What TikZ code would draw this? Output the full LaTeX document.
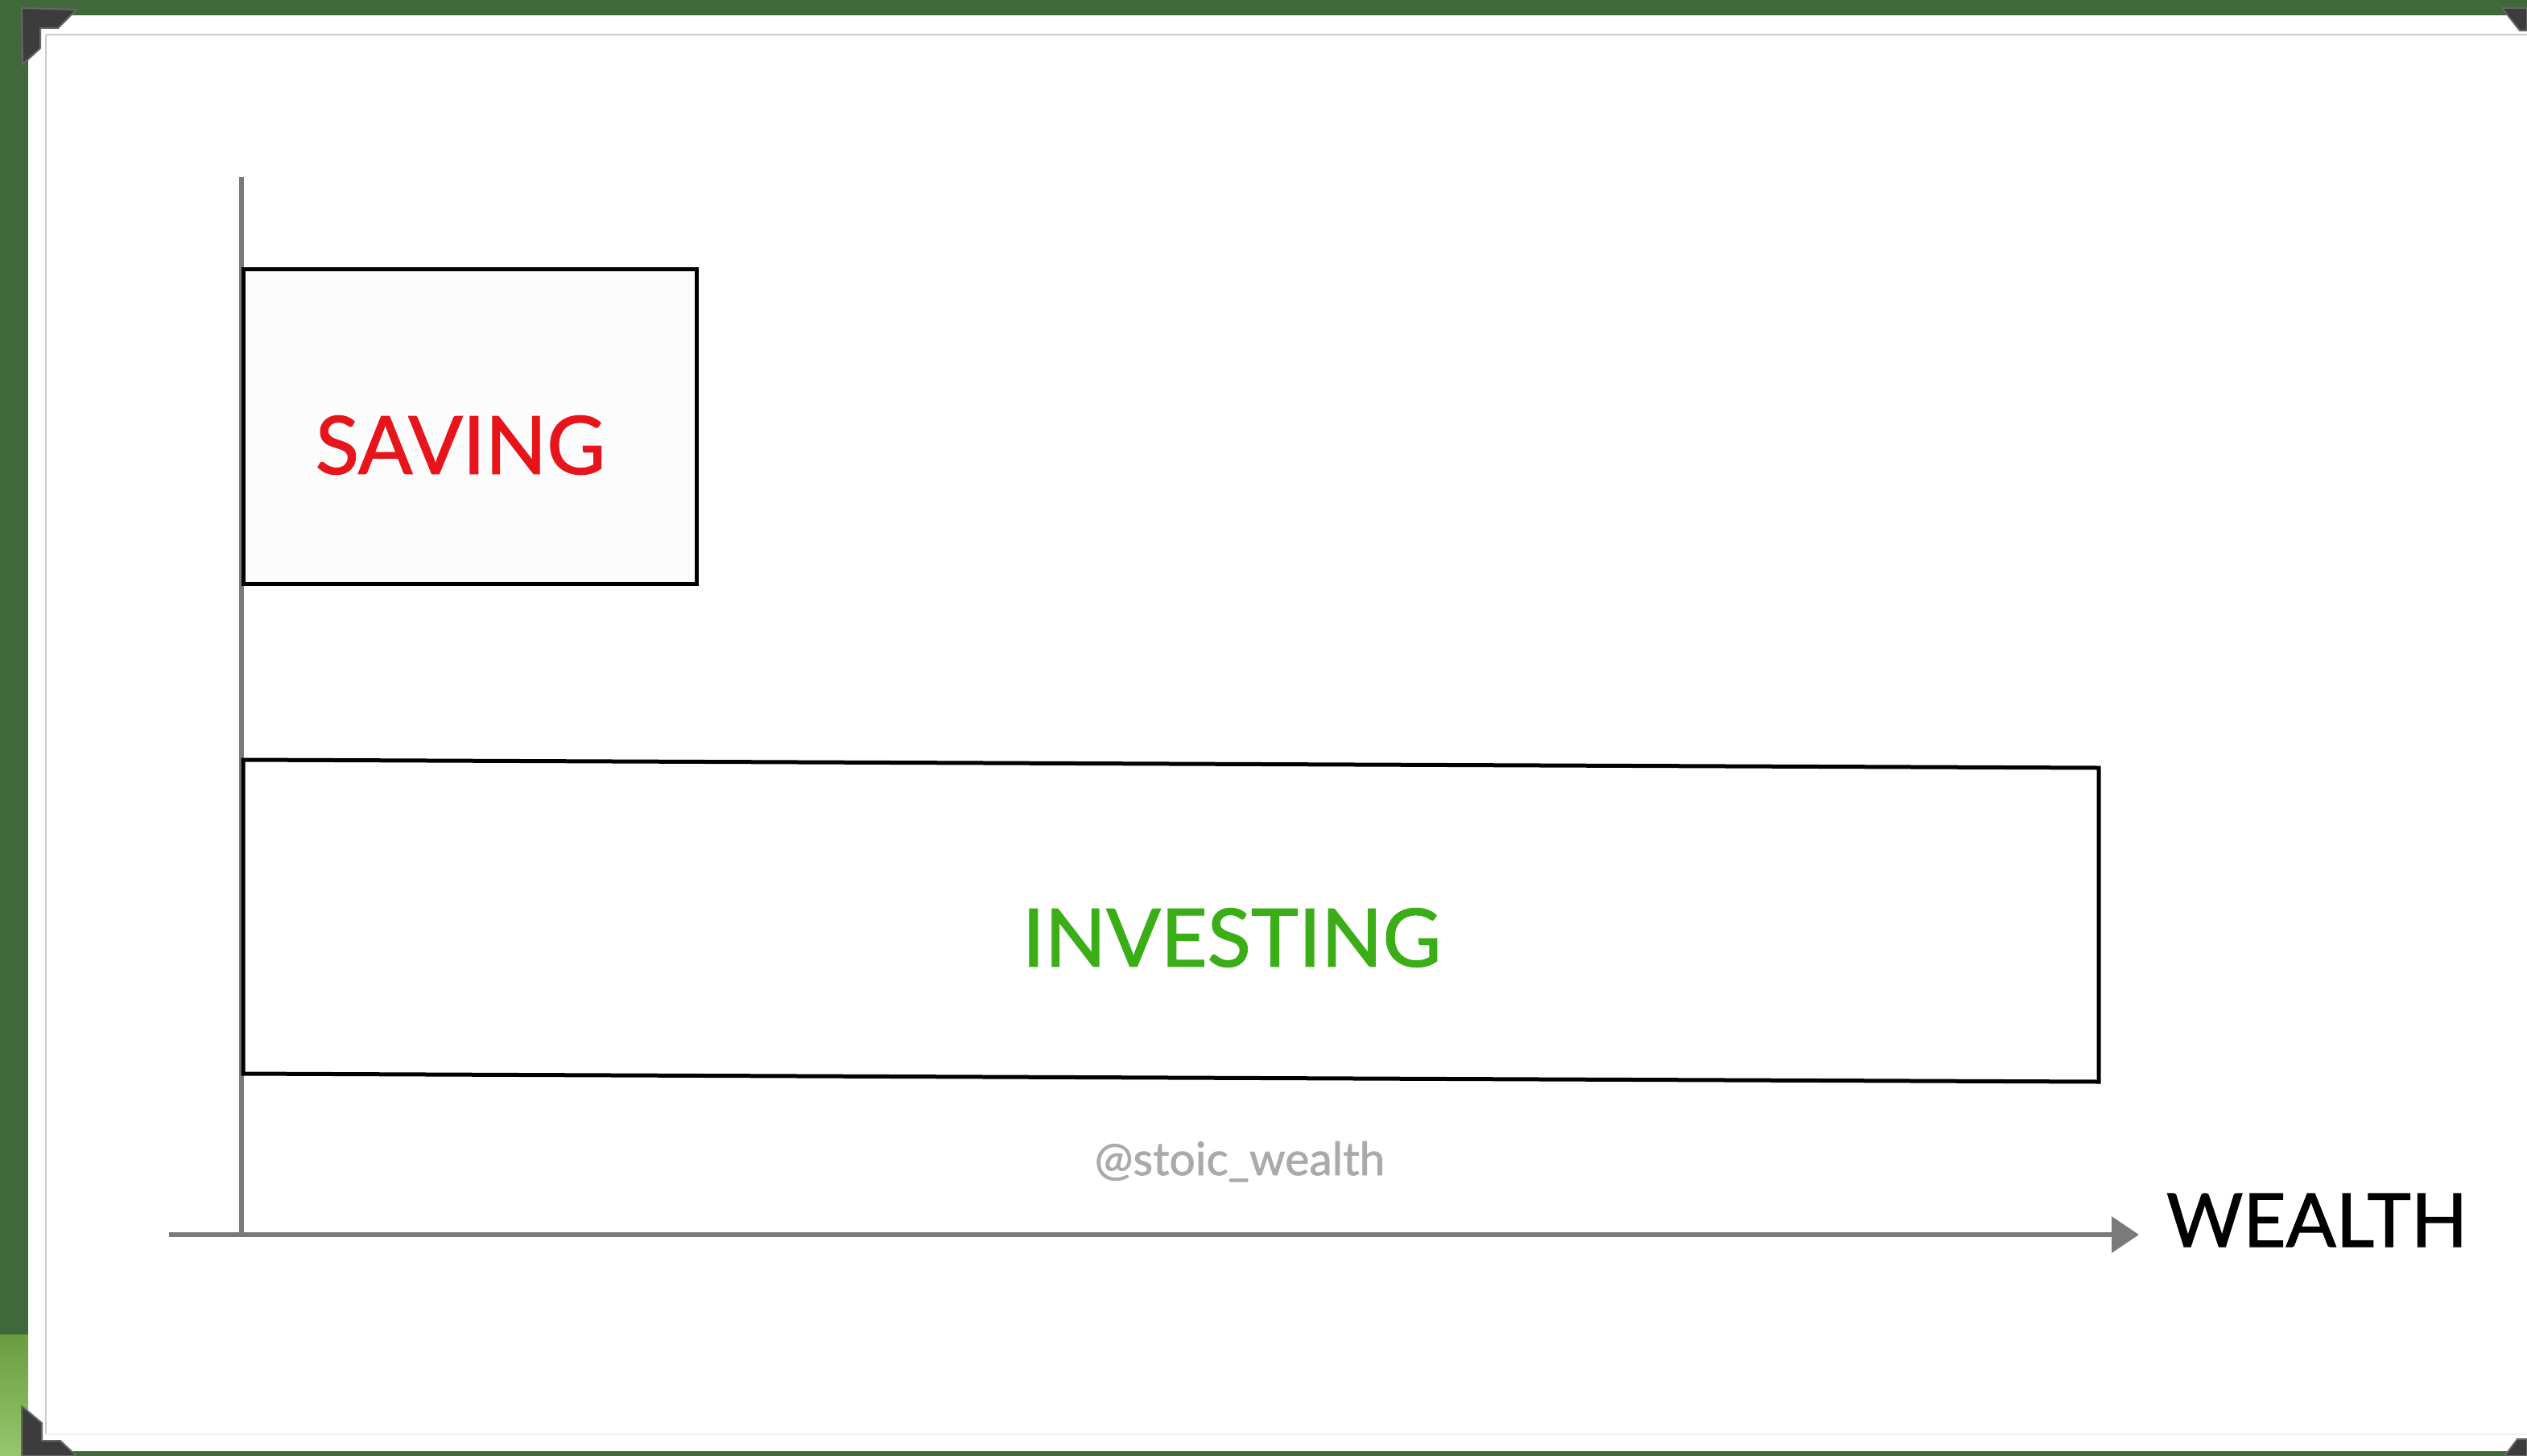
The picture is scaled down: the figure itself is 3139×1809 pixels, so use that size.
\documentclass[tikz,border=0pt]{standalone}
\usepackage{fontspec}
\setmainfont{Lato}
\newfontfamily\medfont[FakeBold=1.3]{Lato}
\usetikzlibrary{arrows.meta}
\definecolor{framegreen}{HTML}{41683A}
\definecolor{lightgreen}{HTML}{7DB84A}
\definecolor{cornergrey}{HTML}{3C3C3C}
\definecolor{axisgrey}{HTML}{7A7A7A}
\definecolor{savered}{HTML}{E8141C}
\definecolor{investgreen}{HTML}{3BAE17}
\definecolor{tagrey}{HTML}{AAAAAA}
\tikzset{
  corner/.style={fill=cornergrey, draw=black!60, line width=2pt, line join=round},
  bar/.style={draw=black, line width=5pt, line join=miter},
  axis/.style={draw=axisgrey, line width=6pt},
  label/.style={inner sep=0pt, font=\medfont\fontsize{100}{110}\selectfont},
}
\begin{document}
\begin{tikzpicture}[x=1pt,y=-1pt]
\useasboundingbox (0,0) rectangle (3139,1809);
% background frame
\fill[framegreen] (0,0) rectangle (3139,1809);
\shade[top color=lightgreen!85!black, bottom color=lightgreen!80!white] (0,1658) rectangle (35,1809);
\fill[white] (35,19) rectangle (3139,1803);
\draw[black!20, line width=2pt] (57,43) -- (3139,43);
\draw[black!20, line width=2pt] (57,43) -- (57,1782);
\draw[black!6, line width=2pt] (57,1782) -- (3139,1782);
% corner pieces
\path[corner] (27,10) -- (95,12) -- (72,35) -- (50,35) -- (50,60) -- (28,80) -- cycle;
\path[corner] (27,1747) -- (52,1768) -- (52,1790) -- (75,1790) -- (95,1809) -- (27,1809) -- cycle;
\path[corner] (3108,10) -- (3139,10) -- (3139,38) -- (3130,38) -- cycle;
\path[corner] (3111,1809) -- (3127,1788) -- (3139,1788) -- (3139,1809) -- cycle;
% axes
\coordinate (ytop) at (300,220);
\coordinate (ybot) at (300,1534);
\coordinate (xstart) at (210,1534);
\coordinate (xend) at (2657,1534);
\draw[axis] (ytop) -- (ybot);
% boxes
\path[bar, fill=black!1] (302,334) rectangle (865,725);
\path[bar, fill=white] (302,944) -- (2607,954) -- (2607,1344) -- (302,1334) -- cycle;
\draw[axis, -{Triangle[length=34pt,width=44pt]}] (xstart) -- (xend);
% labels
\node[label, text=savered] (saving) at (572,553) {SAVING};
\node[label, text=investgreen] (investing) at (1530,1165) {INVESTING};
\node[inner sep=0pt, font=\medfont\fontsize{57}{60}\selectfont, text=tagrey, anchor=base] (tag) at (1540,1460) {@stoic\_wealth};
\node[inner sep=0pt, font=\medfont\fontsize{92}{100}\selectfont, text=black] (wealth) at (2878,1516) {WEALTH};
\end{tikzpicture}
\end{document}
